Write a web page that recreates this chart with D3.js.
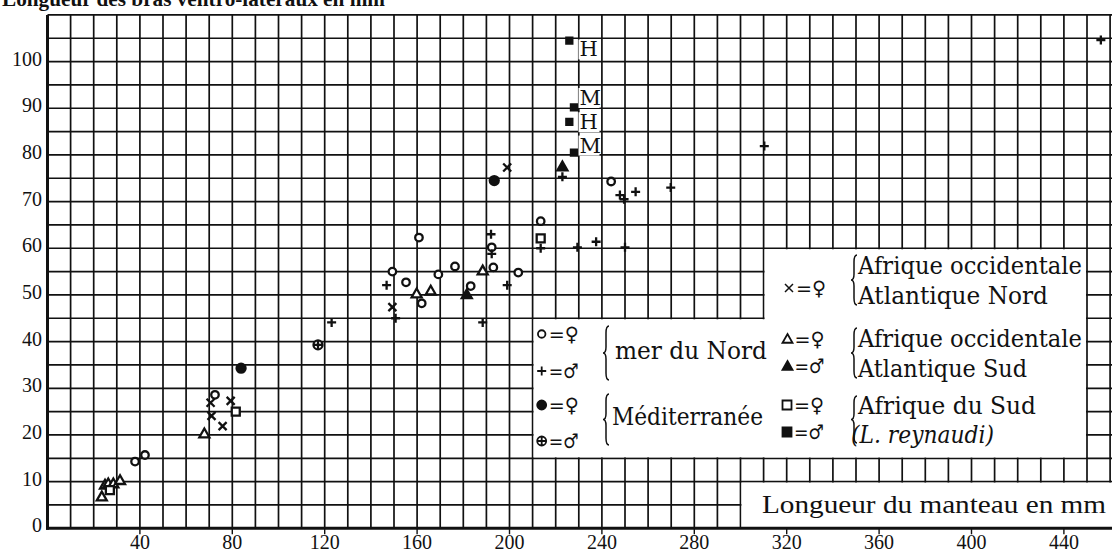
<!DOCTYPE html>
<html>
<head>
<meta charset="utf-8">
<script src="https://cdn.jsdelivr.net/npm/d3@7"></script>
<style>
  body { margin: 0; background: #fff; }
  svg { display: block; }
  text { font-family: "Liberation Serif", "DejaVu Serif", serif; fill: #111; }
  .leg { font-family: "DejaVu Serif", "Liberation Serif", serif; }
</style>
</head>
<body>
<svg id="chart"></svg>
<script>
// values: [longueur du manteau (mm), longueur des bras (mm)]
// mer du Nord
const northFemale = [[37.9,14.3],[42.2,15.7],[72.5,28.6],[149.3,55.0],[155.2,52.7],[160.8,62.3],[162,48.2],
  [169.2,54.4],[176.4,56.1],[183.2,51.9],[192.3,60.2],[193,55.9],[203.8,54.8],[213.5,65.8],[244,74.3]];
const northMale = [[123,44.1],[146.8,52.1],[150.7,45],[188.4,44.1],[192,63],[192.3,58.8],[199,52.1],[213.5,60],
  [222.9,75.3],[229.4,60.2],[237.5,61.4],[247.8,71.4],[249.6,70.5],[250,60.2],[254.6,72.1],[269.8,73],
  [310.3,81.9],[456,104.6]];
// Méditerranée
const medFemale = [[83.8,34.3],[193.4,74.5]];
const medMale = [[117.1,39.3]];
// Afrique occidentale, Atlantique Nord
const westNorthFemale = [[70.6,26.9],[71,24.1],[75.8,21.9],[79.3,27.3],[149.3,47.4],[199,77.3]];
// Afrique occidentale, Atlantique Sud
const westSouthFemale = [[23.5,6.8],[24.9,9.3],[26.3,9.6],[28.5,9.6],[31.4,10.3],[67.9,20.3],
  [159.8,50.3],[165.9,50.9],[188.4,55.2]];
const westSouthMale = [[181.5,50.1],[222.9,77.5]];
// Afrique du Sud (L. reynaudi)
const southFemale = [[27,8.2],[81.5,25],[213.5,62.1]];
const southMale = [[225.9,104.5],[227.9,90.2],[225.9,87.1],[227.9,80.5]];
// letters written next to the L. reynaudi males
const pointLabels = ['H', 'M', 'H', 'M'];
const labelValues = [[230.3,101.1],[230.3,90.7],[230.3,85.5],[230.3,80.5]];

const xTicks = [40,80,120,160,200,240,280,320,360,400,440];
const yTicks = [0,10,20,30,40,50,60,70,80,90,100];

const W = 1112, H = 552;
const ink = '#111';

const svg = d3.select('#chart').attr('width', W).attr('height', H);

const x = d3.scaleLinear().domain([0, 460]).range([47.5, 1110.1]);
const y = d3.scaleLinear().domain([0, 110]).range([528.3, 14.9]);

// millimetre grid
const grid = svg.append('g').attr('stroke', ink).attr('stroke-width', 1.7);
grid.selectAll('.v').data(d3.range(10, 461, 10)).enter().append('line')
  .attr('x1', d => x(d)).attr('x2', d => x(d))
  .attr('y1', y(0)).attr('y2', y(110));
grid.selectAll('.h').data(d3.range(5, 111, 5)).enter().append('line')
  .attr('x1', x(0)).attr('x2', W)
  .attr('y1', d => y(d)).attr('y2', d => y(d));

// white boxes holding the legend and the axis title
const boxes = [
  [210, 450, 15, 45],
  [310, 450, 15, 60],
  [300, 480, 0, 10]
];
svg.append('g').selectAll('rect').data(boxes).enter().append('rect')
  .attr('x', d => x(d[0]) + 1)
  .attr('y', d => y(d[3]) + 1)
  .attr('width', d => x(d[1]) - x(d[0]) - 2)
  .attr('height', d => y(d[2]) - y(d[3]) - 2)
  .attr('fill', '#fff');

// axes
svg.append('line').attr('x1', x(0)).attr('x2', x(0)).attr('y1', y(110)).attr('y2', y(0) + 1.5)
  .attr('stroke', ink).attr('stroke-width', 3);
svg.append('line').attr('x1', x(0) - 1.5).attr('x2', W).attr('y1', y(0)).attr('y2', y(0))
  .attr('stroke', ink).attr('stroke-width', 3);

const xAxis = svg.append('g');
xAxis.selectAll('line').data(xTicks).enter().append('line')
  .attr('x1', d => x(d)).attr('x2', d => x(d))
  .attr('y1', y(0)).attr('y2', y(0) + 6)
  .attr('stroke', ink).attr('stroke-width', 1.4);
xAxis.selectAll('text').data(xTicks).enter().append('text')
  .attr('x', d => x(d)).attr('y', 549)
  .attr('text-anchor', 'middle').attr('font-size', 20)
  .text(d => d);

svg.append('g').selectAll('text').data(yTicks).enter().append('text')
  .attr('x', 42).attr('y', d => y(d) + 4)
  .attr('text-anchor', 'end').attr('font-size', 20)
  .text(d => d);

// titles (the top one is cut by the page edge, as in the original figure)
svg.append('text').attr('x', 2).attr('y', 6)
  .attr('font-size', 22).attr('font-weight', 'bold')
  .attr('textLength', 383).attr('lengthAdjust', 'spacingAndGlyphs')
  .text('Longueur des bras ventro-latéraux en mm');

svg.append('text').attr('x', 762).attr('y', 513)
  .attr('font-size', 26).attr('textLength', 344).attr('lengthAdjust', 'spacingAndGlyphs')
  .text('Longueur du manteau en mm');

// marker shapes
function shape(type, s) {
  const h = s / 2;
  if (type === 'circle' || type === 'dot') {
    const p = d3.path(); p.arc(0, 0, h, 0, 2 * Math.PI); return p.toString();
  }
  if (type === 'circleplus') {
    const p = d3.path(); p.arc(0, 0, h, 0, 2 * Math.PI);
    return p.toString() + `M${-h},0H${h}M0,${-h}V${h}`;
  }
  if (type === 'plus') return `M${-h},0H${h}M0,${-h}V${h}`;
  if (type === 'times') return `M${-h},${-h}L${h},${h}M${-h},${h}L${h},${-h}`;
  if (type === 'triangle') return `M0,${-h}L${h},${h * 0.75}L${-h},${h * 0.75}Z`;
  if (type === 'square') return `M${-h},${-h}H${h}V${h}H${-h}Z`;
}

const series = [
  { data: northFemale, type: 'circle', size: 7.5, fill: '#fff' },
  { data: northMale, type: 'plus', size: 9, fill: 'none' },
  { data: medFemale, type: 'dot', size: 9, fill: ink },
  { data: medMale, type: 'circleplus', size: 9, fill: '#fff' },
  { data: westNorthFemale, type: 'times', size: 8, fill: 'none' },
  { data: westSouthFemale, type: 'triangle', size: 10, fill: '#fff' },
  { data: westSouthMale, type: 'triangle', size: 10, fill: ink },
  { data: southFemale, type: 'square', size: 8, fill: '#fff' },
  { data: southMale, type: 'square', size: 6, fill: ink }
];

series.forEach(s => {
  svg.append('g').selectAll('path').data(s.data).enter().append('path')
    .attr('transform', d => `translate(${x(d[0])},${y(d[1])})`)
    .attr('d', shape(s.type, s.size))
    .attr('fill', s.fill).attr('stroke', ink).attr('stroke-width', 2.3);
});

// H / M letters, on a white patch
const lab = svg.append('g');
pointLabels.forEach((t, i) => {
  const px = x(labelValues[i][0]), py = y(labelValues[i][1]);
  lab.append('rect').attr('x', px - 1).attr('y', py - 17).attr('width', 21).attr('height', 20).attr('fill', '#fff');
  lab.append('text').attr('class', 'leg').attr('x', px).attr('y', py).attr('font-size', 21).text(t);
});

// legend
function brace(cx, y1, y2) {
  const ym = (y1 + y2) / 2, w = 6;
  return `M${cx + w},${y1} Q${cx + w / 2},${y1} ${cx + w / 2},${y1 + 7} L${cx + w / 2},${ym - 6} ` +
    `Q${cx + w / 2},${ym} ${cx},${ym} Q${cx + w / 2},${ym} ${cx + w / 2},${ym + 6} ` +
    `L${cx + w / 2},${y2 - 7} Q${cx + w / 2},${y2} ${cx + w},${y2}`;
}

const leg = svg.append('g');
const legendMarks = [
  { s: series[0], x: 541.7, y: 334, sex: '♀' },
  { s: series[1], x: 541.7, y: 371, sex: '♂' },
  { s: series[2], x: 541.7, y: 405, sex: '♀' },
  { s: series[3], x: 541.7, y: 441, sex: '♂' },
  { s: series[4], x: 789, y: 288, sex: '♀' },
  { s: series[5], x: 787.5, y: 339, sex: '♀' },
  { s: series[6], x: 787.5, y: 366, sex: '♂' },
  { s: series[7], x: 787, y: 405, sex: '♀' },
  { s: series[8], x: 787, y: 432, sex: '♂' }
];
legendMarks.forEach(m => {
  const sz = m.s.type === 'square' ? 9 : m.s.size;
  leg.append('path').attr('transform', `translate(${m.x},${m.y})`)
    .attr('d', shape(m.s.type, sz))
    .attr('fill', m.s.fill).attr('stroke', ink).attr('stroke-width', m.s.type === 'times' ? 1.5 : 1.8);
  leg.append('text').attr('x', m.x + 7).attr('y', m.y + 7)
    .style('font-family', '"DejaVu Sans", sans-serif').attr('font-size', 20)
    .attr('textLength', 30).attr('lengthAdjust', 'spacingAndGlyphs')
    .text('=' + m.sex);
});

[[603, 326, 380], [603, 394, 445], [851, 255, 305], [851, 328, 378], [851, 396, 443]].forEach(b => {
  leg.append('path').attr('d', brace(b[0], b[1], b[2]))
    .attr('fill', 'none').attr('stroke', ink).attr('stroke-width', 1.5);
});

const legendText = [
  ['mer du Nord', 615, 359, 152, false],
  ['Méditerranée', 612, 425, 151, false],
  ['Afrique occidentale', 858, 274, 224, false],
  ['Atlantique Nord', 858, 304, 190, false],
  ['Afrique occidentale', 858, 347, 224, false],
  ['Atlantique Sud', 858, 377, 169, false],
  ['Afrique du Sud', 858, 414, 178, false],
  ['(L. reynaudi)', 851, 443, 143, true]
];
legendText.forEach(t => {
  leg.append('text').attr('class', 'leg').attr('x', t[1]).attr('y', t[2])
    .attr('font-size', 24).attr('font-style', t[4] ? 'italic' : 'normal')
    .attr('textLength', t[3]).attr('lengthAdjust', 'spacingAndGlyphs')
    .text(t[0]);
});
</script>
</body>
</html>
